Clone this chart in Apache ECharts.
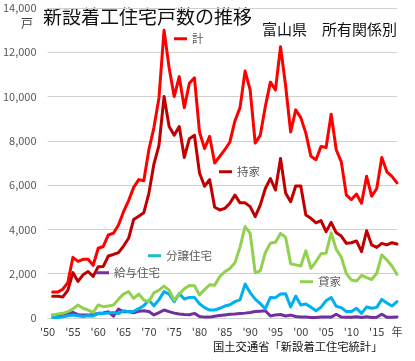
<!DOCTYPE html>
<html><head><meta charset="utf-8">
<script src="https://cdn.jsdelivr.net/npm/echarts@6.0.0/dist/echarts.min.js"></script>
<style>html,body{margin:0;padding:0;background:#fff}#c{width:415px;height:361px}</style>
</head><body><div id="c"></div>
<script>
const years = [1951,1952,1953,1954,1955,1956,1957,1958,1959,1960,
1961,1962,1963,1964,1965,1966,1967,1968,1969,1970,
1971,1972,1973,1974,1975,1976,1977,1978,1979,1980,
1981,1982,1983,1984,1985,1986,1987,1988,1989,1990,
1991,1992,1993,1994,1995,1996,1997,1998,1999,2000,
2001,2002,2003,2004,2005,2006,2007,2008,2009,2010,
2011,2012,2013,2014,2015,2016,2017,2018,2019];
// 計
const total = [1170,1170,1300,1600,2740,2560,2650,2650,2380,3150,
3230,3750,3830,4200,4800,5300,5900,6250,6200,7600,
8600,9950,13000,11300,10000,10900,9500,10600,10850,8400,
7650,8200,7000,7300,7600,7950,8900,9500,11150,10300,
7900,8250,9550,10650,10300,12250,10500,8400,9400,9050,
8350,7300,7150,7750,7700,9200,7600,7050,5550,5350,
5600,5180,6400,5500,5850,7250,6600,6400,6100];
// 持家
const owner = [980,980,950,1250,2050,1650,1950,2100,1880,2320,
2330,2800,2870,2950,3250,3600,4450,4600,4750,5630,
6950,7800,10000,8650,8250,8650,7250,8100,8250,6550,
5950,6250,5000,4880,4950,5180,5550,5200,5200,5030,
4580,5100,5850,6300,5780,7200,5650,5250,5960,5960,
4650,4500,4300,4400,3900,4320,3850,3700,3370,3400,
3480,3000,3940,3300,3190,3370,3300,3400,3340];
// 貸家
const rental = [130,180,210,290,400,590,440,360,250,590,
510,540,590,850,1080,1190,890,1080,810,740,
1140,1260,1440,1260,810,1080,1320,1470,1460,1040,
1280,1500,1480,1870,2090,2240,2500,3200,4130,3830,
2050,2130,2950,3380,3420,3820,3650,2450,2400,2350,
3040,2240,2550,2900,2930,3850,3100,2750,2000,1720,
1670,1920,1820,1740,2020,2850,2620,2350,1970];
// 分譲住宅
const forSale = [20,20,60,100,140,100,70,100,90,210,
200,230,250,200,330,280,300,420,560,800,
550,830,1190,1080,740,1100,860,930,930,640,
470,360,360,440,540,600,740,820,1530,1150,
850,650,420,930,920,1080,1100,500,990,590,
630,490,330,490,780,930,530,470,290,290,
440,210,500,440,480,840,680,540,740];
// 給与住宅
const company = [130,110,140,200,250,150,140,130,160,200,
230,280,80,400,280,290,240,300,330,290,
140,240,360,290,220,180,160,150,210,70,
40,40,80,110,140,170,180,200,220,250,
290,310,330,90,140,160,90,130,70,50,
50,20,20,40,40,40,170,40,30,30,
60,20,60,20,30,170,30,30,50];

const xTickLabels = {1950:"'50",1955:"'55",1960:"'60",1965:"'65",1970:"'70",1975:"'75",1980:"'80",1985:"'85",1990:"'90",1995:"'95",2000:"'00",2005:"'05",2010:"'10",2015:"'15",2019:"年"};
const yTickValues = [0,2000,4000,6000,8000,10000,12000,14000];

const FONT = '"Noto Sans CJK JP", sans-serif';
const pair = arr => years.map((y, i) => [y, arr[i]]);

function mkSeries(name, arr, color) {
  return {name, type:'line', data: pair(arr), showSymbol:false, symbol:'none',
    lineStyle:{width:3, color, join:'round', cap:'round'}, itemStyle:{color}, z:2};
}
function lg(name, left, cy, color) {
  const o = {data:[name], left, top: cy-6, padding:0, itemWidth:13, itemHeight:3, icon:'rect',
    selectedMode:false, textStyle:{fontSize:11.5, color:'#595959', fontFamily:FONT}};
  if (color) o.itemStyle = {color};
  return o;
}

const chart = echarts.init(document.getElementById('c'), null, {renderer:'canvas'});
chart.setOption({
  animation:false,
  backgroundColor:'#fff',
  textStyle:{fontFamily:FONT},
  grid:{left:45, right:18, top:8, bottom:43, containLabel:false},
  xAxis:{type:'value', min:1950, max:2019, interval:5,
    axisLine:{show:true, lineStyle:{color:'#d0d0d0', width:1}},
    axisTick:{show:false}, splitLine:{show:false},
    axisLabel:{margin:8, fontSize:11, color:'#404040', fontFamily:FONT, showMaxLabel:true, showMinLabel:true,
      formatter: v => xTickLabels[v] !== undefined ? xTickLabels[v] : ''}},
  yAxis:{type:'value', min:yTickValues[0], max:yTickValues[yTickValues.length-1], interval:2000,
    axisLine:{show:false}, axisTick:{show:false},
    splitLine:{lineStyle:{color:'#d0d0d0', width:1}},
    axisLabel:{margin:11, fontSize:11, color:'#595959', fontFamily:FONT}},
  legend:[
    lg('計', 174, 39),
    lg('持家', 219, 172),
    lg('分譲住宅', 148, 256, '#17bfc4'),
    lg('給与住宅', 96, 273),
    lg('貸家', 300, 282)
  ],
  series:[
    mkSeries('給与住宅', company, '#7030a0'),
    mkSeries('分譲住宅', forSale, '#00b0f0'),
    mkSeries('貸家', rental, '#92d050'),
    mkSeries('持家', owner, '#c00000'),
    mkSeries('計', total, '#ff0000')
  ],
  graphic:[
    {type:'text', x:43, y:17, style:{text:'新設着工住宅戸数の推移', font:'19px "Noto Sans CJK JP"', fill:'#111', align:'left', verticalAlign:'middle'}},
    {type:'text', x:262, y:29, style:{text:'富山県　所有関係別', font:'15px "Noto Sans CJK JP"', fill:'#111', align:'left', verticalAlign:'middle'}},
    {type:'text', x:33, y:23, style:{text:'戸', font:'12px "Noto Sans CJK JP"', fill:'#404040', align:'right', verticalAlign:'middle'}},
    {type:'text', x:213, y:347, style:{text:'国土交通省「新設着工住宅統計」', font:'11.3px "Noto Sans CJK JP"', fill:'#111', align:'left', verticalAlign:'middle'}}
  ]
});
</script></body></html>
